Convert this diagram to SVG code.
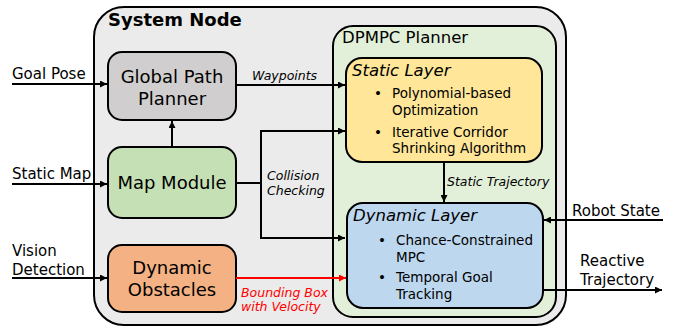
<svg xmlns="http://www.w3.org/2000/svg" width="680" height="328" viewBox="0 0 680 328">
  <defs>
    <marker id="arr" viewBox="0 0 10 10" refX="10" refY="5" markerWidth="7" markerHeight="7" markerUnits="userSpaceOnUse" orient="auto">
      <path d="M0,0 L10,5 L0,10 z" fill="#000"/>
    </marker>
    <marker id="arr-red" viewBox="0 0 10 10" refX="10" refY="5" markerWidth="7" markerHeight="7" markerUnits="userSpaceOnUse" orient="auto">
      <path d="M0,0 L10,5 L0,10 z" fill="#ff0000"/>
    </marker>
  </defs>
  <style>
    text { font-family: "DejaVu Sans", Verdana, sans-serif; fill: #000; }
    .box { stroke: #000; stroke-width: 2; }
    .name { font-size: 18px; text-anchor: middle; }
    .lbl { font-size: 15px; }
    .item { font-size: 13.5px; }
    .layer { font-size: 16.5px; font-style: italic; }
    .edge-lbl { font-size: 12.5px; font-style: italic; }
    .wire { fill: none; stroke: #000; stroke-width: 2; }
  </style>

  <rect width="680" height="328" fill="#fff"/>

  <!-- outer container -->
  <g id="system-node">
    <rect class="box" x="94" y="7" width="472" height="318" rx="30" fill="#ebebeb"/>
    <text x="108" y="26" font-size="18" font-weight="bold">System Node</text>
  </g>

  <g id="dpmpc-planner">
    <rect class="box" x="333" y="26" width="223" height="291" rx="20" fill="#e2f0d9"/>
    <text x="342" y="43" font-size="16.5">DPMPC Planner</text>
  </g>

  <g id="global-path-planner">
    <rect class="box" x="108" y="52" width="128" height="68" rx="14" fill="#d0cece"/>
    <text class="name" x="172" y="83">Global Path</text>
    <text class="name" x="172" y="105">Planner</text>
  </g>

  <g id="map-module">
    <rect class="box" x="108" y="147" width="128" height="71" rx="14" fill="#c5e0b4"/>
    <text class="name" x="172" y="189">Map Module</text>
  </g>

  <g id="dynamic-obstacles">
    <rect class="box" x="108" y="245" width="128" height="67" rx="14" fill="#f4b183"/>
    <text class="name" x="172" y="274">Dynamic</text>
    <text class="name" x="172" y="296">Obstacles</text>
  </g>

  <g id="static-layer">
    <rect class="box" x="346" y="58" width="196" height="104" rx="16" fill="#ffe699"/>
    <text class="layer" x="352" y="76">Static Layer</text>
    <text class="item" x="374" y="98">•</text>
    <text class="item" x="392" y="98">Polynomial-based</text>
    <text class="item" x="392" y="115">Optimization</text>
    <text class="item" x="374" y="137">•</text>
    <text class="item" x="392" y="137">Iterative Corridor</text>
    <text class="item" x="392" y="153">Shrinking Algorithm</text>
  </g>

  <g id="dynamic-layer">
    <rect class="box" x="347" y="203" width="196" height="105" rx="16" fill="#bdd7ee"/>
    <text class="layer" x="353" y="221">Dynamic Layer</text>
    <text class="item" x="378" y="245">•</text>
    <text class="item" x="396" y="245">Chance-Constrained</text>
    <text class="item" x="396" y="262">MPC</text>
    <text class="item" x="378" y="282">•</text>
    <text class="item" x="396" y="282">Temporal Goal</text>
    <text class="item" x="396" y="299">Tracking</text>
  </g>

  <g id="connectors">
    <!-- external inputs -->
    <line class="wire" x1="12" y1="84" x2="107" y2="84" marker-end="url(#arr)"/>
    <text class="lbl" x="12" y="79">Goal Pose</text>
    <line class="wire" x1="12" y1="184" x2="107" y2="184" marker-end="url(#arr)"/>
    <text class="lbl" x="12" y="179">Static Map</text>
    <line class="wire" x1="12" y1="278" x2="107" y2="278" marker-end="url(#arr)"/>
    <text class="lbl" x="12" y="256">Vision</text>
    <text class="lbl" x="12" y="275">Detection</text>

    <!-- waypoints -->
    <line class="wire" x1="236" y1="85" x2="345" y2="85" marker-end="url(#arr)"/>
    <text class="edge-lbl" x="252" y="80">Waypoints</text>

    <!-- map module to global planner -->
    <line class="wire" x1="172" y1="147" x2="172" y2="121" marker-end="url(#arr)"/>

    <!-- collision checking, fanning out to both layers -->
    <polyline class="wire" points="236,183 261,183"/>
    <polyline class="wire" points="261,238 261,131 345,131" marker-end="url(#arr)"/>
    <polyline class="wire" points="261,183 261,238 345,238" marker-end="url(#arr)"/>
    <text class="edge-lbl" x="267" y="180">Collision</text>
    <text class="edge-lbl" x="267" y="195">Checking</text>

    <!-- bounding box -->
    <line x1="236" y1="278" x2="346" y2="278" stroke="#ff0000" stroke-width="2" marker-end="url(#arr-red)"/>
    <text class="edge-lbl" x="241" y="297" style="fill:#ff0000">Bounding Box</text>
    <text class="edge-lbl" x="241" y="311" style="fill:#ff0000">with Velocity</text>

    <!-- static trajectory -->
    <line class="wire" x1="444" y1="162" x2="444" y2="202" marker-end="url(#arr)"/>
    <text class="edge-lbl" x="447" y="186">Static Trajectory</text>

    <!-- robot state / output -->
    <line class="wire" x1="663" y1="220" x2="544" y2="220" marker-end="url(#arr)"/>
    <text class="lbl" x="572" y="216">Robot State</text>
    <line class="wire" x1="543" y1="290" x2="662" y2="290" marker-end="url(#arr)"/>
    <text class="lbl" x="580" y="266">Reactive</text>
    <text class="lbl" x="580" y="285">Trajectory</text>
  </g>
</svg>
